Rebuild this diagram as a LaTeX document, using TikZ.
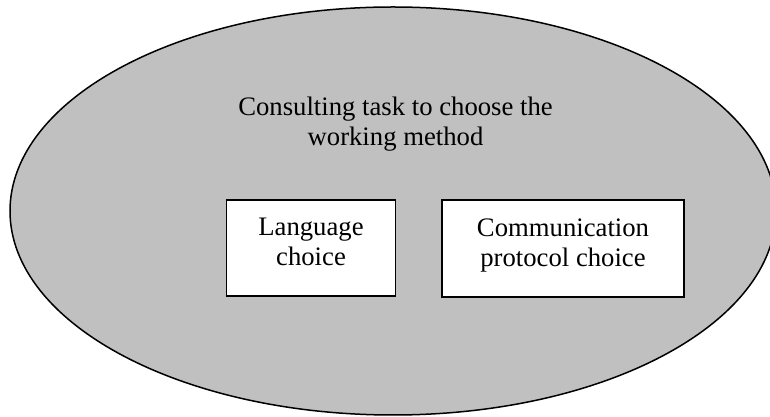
\documentclass[tikz,border=0pt]{standalone}
\usepackage{fontspec}
\setmainfont{Liberation Serif}
\usetikzlibrary{shapes.geometric}
\begin{document}
\begin{tikzpicture}[x=1pt,y=1pt,
  boxstyle/.style={draw=black, line width=1.5pt, fill=white, inner sep=0pt},
  labelstyle/.style={align=center, inner sep=0pt, font=\fontsize{26.7}{30}\selectfont}]
\useasboundingbox (0,0) rectangle (770,417);
\clip (0,0) rectangle (770,417);
\node[ellipse, draw=black, line width=1.5pt, fill={rgb,255:red,192;green,192;blue,192},
  minimum width=766, minimum height=408, inner sep=0pt] (outer) at (393,206) {};
\node[labelstyle, anchor=north] (title) at (395.5,320) {Consulting task to choose the\\working method};
\node[boxstyle, minimum width=169, minimum height=96] (lang) at (311,169) {};
\node[boxstyle, minimum width=242, minimum height=97] (comm) at (563,168.5) {};
\node[labelstyle, anchor=north] (langtext) at ([yshift=-19]lang.north) {Language\\choice};
\node[labelstyle, anchor=north] (commtext) at ([yshift=-19]comm.north) {Communication\\protocol choice};
\end{tikzpicture}
\end{document}
